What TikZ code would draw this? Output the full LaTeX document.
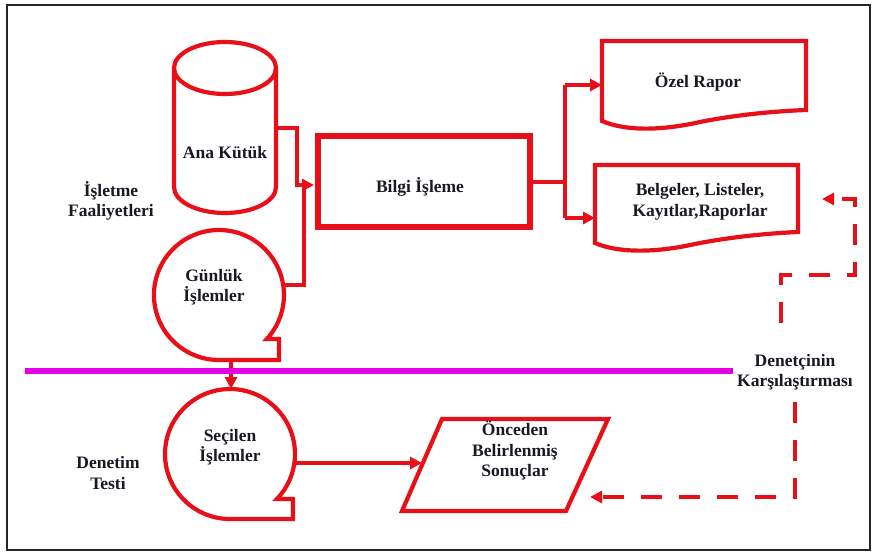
\documentclass[tikz,border=0pt]{standalone}
\usepackage{fontspec}
\setmainfont{Liberation Serif}
\usetikzlibrary{arrows.meta}
\definecolor{rd}{RGB}{232,16,24}
\definecolor{mg}{RGB}{228,0,228}
\definecolor{tx}{RGB}{25,25,35}
\begin{document}
\begin{tikzpicture}[x=1pt,y=1pt,yscale=-1,
  shp/.style={draw=rd,line width=4.2pt,line join=miter},
  conn/.style={draw=rd,line width=3.6pt},
  arr/.style={conn,-{Triangle[length=12pt,width=12pt]}},
  dsh/.style={draw=rd,line width=4.2pt,dash pattern=on 21pt off 17pt,-{Triangle[length=12pt,width=12pt]}},
  lbl/.style={font=\fontsize{17.5}{20.5}\selectfont\bfseries,text=tx,align=center,inner sep=0pt}]
\useasboundingbox (0,0) rectangle (872,553);
\fill[white] (0,0) rectangle (872,553);
\draw[line width=1.3pt,black!85] (7,5) rectangle (870,550);

% Ana Kutuk cylinder
\draw[shp] (225,68) ellipse [x radius=51, y radius=26];
\draw[shp] (174,68) -- (174,187) arc[start angle=180, end angle=0, x radius=51, y radius=26] -- (276,68);
\node[lbl] (ana) at (225,153) {Ana Kütük};
\coordinate (anaR) at (276,128);

% Bilgi Isleme
\node[draw=rd,line width=6pt,minimum width=212pt,minimum height=91pt,inner sep=0pt] (bilgi) at (424,181.5) {};
\node[lbl] (bilgiT) at (420,187) {Bilgi İşleme};

% Gunluk Islemler tape
\draw[shp] (219,360) -- (279,360) -- (279,339) -- (266.8,339) arc[start angle=42.6, end angle=-270, radius=65] -- cycle;
\node[lbl] (gun) at (214,287) {Günlük\\İşlemler};
\coordinate (gunR) at (283,285);
\coordinate (gunB) at (231,360);

% Secilen Islemler tape
\draw[shp] (230,519) -- (293,519) -- (293,499) -- (276.9,499) arc[start angle=43.8, end angle=-270, radius=65] -- cycle;
\node[lbl] (sec) at (230,447) {Seçilen\\İşlemler};
\coordinate (secT) at (231,389);
\coordinate (secR) at (295,463);

% Ozel Rapor document
\draw[shp] (602,121) -- (602,41) -- (806,41) -- (806,110)
  .. controls (780,111) and (740,114) .. (700,122)
  .. controls (660,131) and (625,131) .. (602,121) -- cycle;
\node[lbl] (ozel) at (698,82) {Özel Rapor};
\coordinate (ozelL) at (602,85);

% Belgeler document
\draw[shp] (595,243) -- (595,165) -- (798,165) -- (798,232)
  .. controls (775,233) and (735,236) .. (695,244)
  .. controls (655,253) and (618,253) .. (595,243) -- cycle;
\node[lbl] (belge) at (700,202) {Belgeler, Listeler,\\Kayıtlar,Raporlar};
\coordinate (belgeL) at (595,218);
\coordinate (belgeR) at (822,199);

% Onceden parallelogram
\draw[shp] (442,419) -- (608,419) -- (566,511) -- (402,511) -- cycle;
\node[lbl] (once) at (515,451) {Önceden\\Belirlenmiş\\Sonuçlar};
\coordinate (onceL) at (422,463);
\coordinate (onceR) at (590,497);

% connectors
\coordinate (bilgiL) at (bilgi.west);
\draw[conn] (anaR) -- (297,128) -- (297,185) -- (304,185);
\draw[conn] (gunR) -- (304,285) -- (304,185);
\draw[arr] (297,185) -- ([xshift=-1pt]bilgi.west |- 0,185);
\coordinate (split) at (565,182);
\draw[conn] (bilgi.east |- split) -- (split);
\draw[conn] (565,85) -- (565,218);
\draw[arr] (565,85) -- (ozelL);
\draw[arr] (565,218) -- (belgeL);
\draw[arr] (secR) -- (onceL);
\draw[arr] (gunB) -- (secT);

% separator
\draw[mg,line width=5.5pt] (25,371) -- (733,371);

% labels
\node[lbl] (isl) at (111,201) {İşletme\\Faaliyetleri};
\node[lbl] (den) at (108,473) {Denetim\\Testi};
\node[lbl] (kars) at (795,372) {Denetçinin\\Karşılaştırması};

% dashed
\draw[dsh] (781,323) -- (781,275) -- (855,275) -- (855,199) -- (belgeR);
\draw[dsh] (795,402) -- (795,497) -- (onceR);
\end{tikzpicture}
\end{document}
